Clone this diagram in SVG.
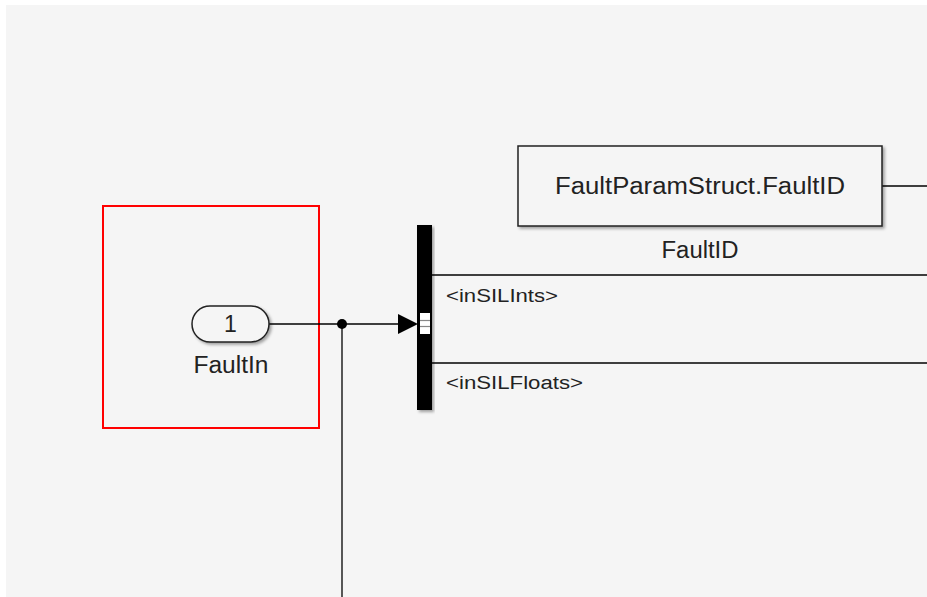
<svg xmlns="http://www.w3.org/2000/svg" width="927" height="597" viewBox="0 0 927 597">
<defs>
<filter id="sh" x="-10%" y="-10%" width="130%" height="130%">
<feDropShadow dx="2" dy="2" stdDeviation="1.5" flood-color="#000" flood-opacity="0.35"/>
</filter>
<style>
.t{font-family:"Liberation Sans",Arial,sans-serif;fill:#222}
.w{stroke:#000;stroke-width:1.3;fill:none}
</style>
</defs>
<rect x="0" y="0" width="927" height="597" fill="#fff"/>
<rect x="6" y="5" width="921" height="592" fill="#f5f5f5"/>
<g id="highlight">
<rect x="103" y="206" width="216" height="222" fill="none" stroke="#f00" stroke-width="2"/>
</g>
<g id="connectors">
<line class="w" x1="269" y1="324" x2="400" y2="324"/>
<polygon points="398,314 418,324 398,334" fill="#000"/>
<circle cx="342" cy="324" r="5" fill="#000"/>
<line class="w" x1="342" y1="324" x2="342" y2="597"/>
<line class="w" x1="432" y1="275" x2="927" y2="275"/>
<line class="w" x1="432" y1="363" x2="927" y2="363"/>
<line class="w" x1="882" y1="186" x2="927" y2="186"/>
<text class="t" x="446" y="301.5" font-size="18" textLength="112" lengthAdjust="spacingAndGlyphs">&lt;inSILInts&gt;</text>
<text class="t" x="446" y="389" font-size="18" textLength="137" lengthAdjust="spacingAndGlyphs">&lt;inSILFloats&gt;</text>
</g>
<g id="inport">
<rect x="192" y="306" width="77" height="36" rx="18" fill="#f5f5f5" stroke="#222" stroke-width="1.5" filter="url(#sh)"/>
<text class="t" x="230.5" y="332" font-size="23" text-anchor="middle">1</text>
<text class="t" x="231" y="373" font-size="23" text-anchor="middle" textLength="75" lengthAdjust="spacingAndGlyphs">FaultIn</text>
</g>
<g id="buscreator">
<rect x="417" y="225" width="15" height="185" fill="#000" filter="url(#sh)"/>
<rect x="420" y="313" width="10" height="21" fill="#fff"/>
<line x1="420" y1="320.5" x2="430" y2="320.5" stroke="#888" stroke-width="1.2"/>
<line x1="420" y1="326.5" x2="430" y2="326.5" stroke="#888" stroke-width="1.2"/>
</g>
<g id="constant">
<rect x="518" y="146" width="364" height="80" fill="#f5f5f5" stroke="#222" stroke-width="1.5" filter="url(#sh)"/>
<text class="t" x="700" y="194" font-size="23" text-anchor="middle" textLength="290" lengthAdjust="spacingAndGlyphs">FaultParamStruct.FaultID</text>
<text class="t" x="700" y="258" font-size="23" text-anchor="middle" textLength="77" lengthAdjust="spacingAndGlyphs">FaultID</text>
</g>
</svg>
